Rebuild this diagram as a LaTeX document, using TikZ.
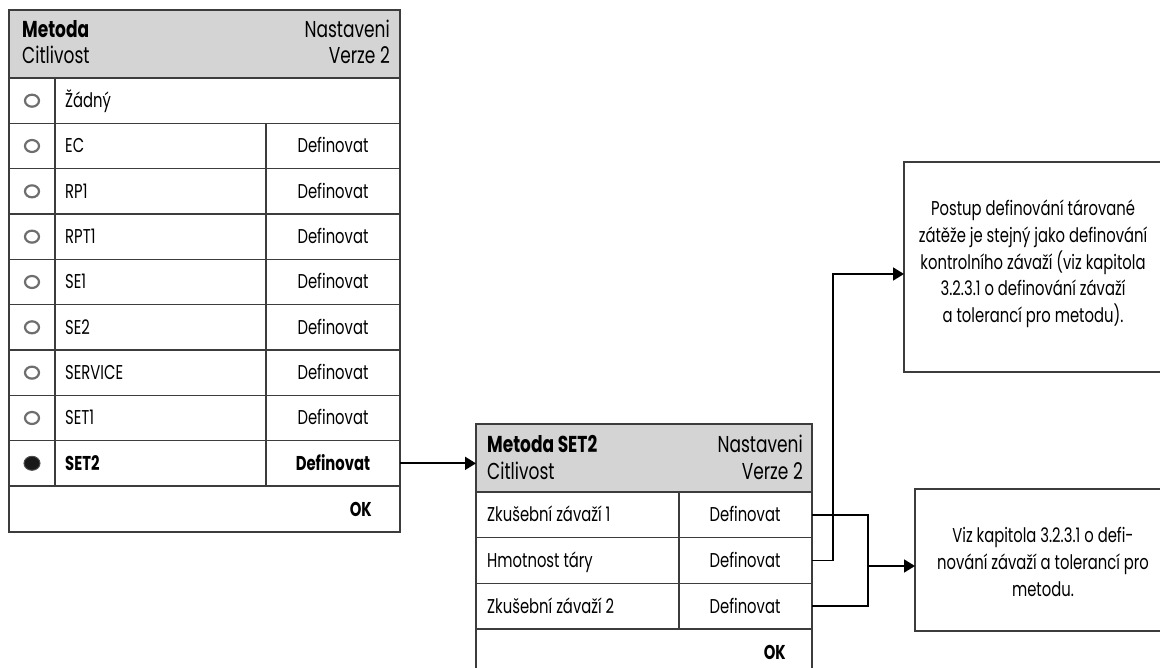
\documentclass[tikz,border=0pt]{standalone}
\usepackage{fontspec}
\setmainfont{Poppins}[FakeStretch=0.74]
\usetikzlibrary{arrows.meta,shapes.geometric}
\definecolor{frame}{HTML}{3C3C3C}
\definecolor{hdr}{HTML}{D4D4D4}
\definecolor{radioring}{HTML}{6E6E6E}
\begin{document}
\begin{tikzpicture}[x=1pt,y=-1pt,
  cell/.style={draw=frame,line width=1.3pt,anchor=north west,inner sep=0pt,outer sep=0pt},
  txt/.style={font=\fontsize{20}{23}\selectfont,inner sep=0pt},
  btxt/.style={font=\fontsize{20}{23}\selectfont\bfseries,inner sep=0pt},
  htxt/.style={font=\fontsize{23}{26}\selectfont,inner sep=0pt},
  hbtxt/.style={font=\fontsize{23}{26}\selectfont\bfseries,inner sep=0pt},
  radio/.style={ellipse,draw=radioring,line width=2.2pt,minimum width=14pt,minimum height=12pt,inner sep=0pt},
  radioon/.style={ellipse,fill=black!90,draw=black!70,line width=1pt,minimum width=16pt,minimum height=14pt,inner sep=0pt},
  note/.style={draw=frame,line width=1.3pt,anchor=north west,inner sep=0pt,outer sep=0pt},
  notetxt/.style={font=\fontsize{20}{26.7}\selectfont,align=center,inner sep=0pt},
  link/.style={draw=black,line width=1.8pt},
  arr/.style={link,-{Triangle[length=11pt,width=13pt]}}]
\useasboundingbox (0,0) rectangle (1160,668);

% ---- method list panel ----
\node[cell,fill=hdr,minimum width=391pt,minimum height=68pt] (h1) at (9,10) {};
\node[hbtxt,anchor=base west] (h1a) at (22,37.5) {Metoda};
\node[htxt,anchor=base west] (h1b) at (22,63.5) {Citlivost};
\node[htxt,anchor=base east] (h1c) at (390,37.5) {Nastaveni};
\node[htxt,anchor=base east] (h1d) at (390,63.5) {Verze 2};

% first row spans both right columns
\node[cell,minimum width=46pt,minimum height=45.33pt] (c0) at (9,78) {};
\node[cell,minimum width=345pt,minimum height=45.33pt] (n0) at (55,78) {};
\node[radio] (r0) at (32,100.7) {};
\node[txt,anchor=base west] (t0) at (65,107.5) {Žádný};

\foreach \i/\name in {1/EC,2/RP1,3/RPT1,4/SE1,5/SE2,6/SERVICE,7/SET1}{
  \pgfmathsetmacro{\top}{78+45.33*\i}
  \pgfmathsetmacro{\mid}{\top+22.67}
  \node[cell,minimum width=46pt,minimum height=45.33pt] (c\i) at (9,\top) {};
  \node[cell,minimum width=211pt,minimum height=45.33pt] (n\i) at (55,\top) {};
  \node[cell,minimum width=134pt,minimum height=45.33pt] (d\i) at (266,\top) {};
  \node[radio] (r\i) at (32,\mid) {};
  \node[txt,anchor=base west] (t\i) at (65,\mid+7) {\name};
  \node[txt,anchor=base] (dt\i) at (333,\mid+7) {Definovat};
}

% selected entry
\node[cell,minimum width=46pt,minimum height=45.33pt] (c8) at (9,440.7) {};
\node[cell,minimum width=211pt,minimum height=45.33pt] (n8) at (55,440.7) {};
\node[cell,minimum width=134pt,minimum height=45.33pt] (d8) at (266,440.7) {};
\node[radioon] (r8) at (32,463.3) {};
\node[btxt,anchor=base west] (t8) at (65,470.3) {SET2};
\node[btxt,anchor=base] (dt8) at (333,470.3) {Definovat};

\node[cell,minimum width=391pt,minimum height=46pt] (ok1) at (9,486) {};
\node[btxt,anchor=base east] (ok1t) at (372,516) {OK};

% ---- SET2 detail panel ----
\node[cell,fill=hdr,minimum width=336pt,minimum height=68pt] (h2) at (476,424) {};
\node[hbtxt,anchor=base west] (h2a) at (487,453) {Metoda SET2};
\node[htxt,anchor=base west] (h2b) at (487,479) {Citlivost};
\node[htxt,anchor=base east] (h2c) at (803,453) {Nastaveni};
\node[htxt,anchor=base east] (h2d) at (803,479) {Verze 2};

\foreach \i/\name in {1/{Zkušební závaží 1},2/{Hmotnost táry},3/{Zkušební závaží 2}}{
  \pgfmathsetmacro{\top}{492+45.67*(\i-1)}
  \pgfmathsetmacro{\mid}{\top+22.83}
  \node[cell,minimum width=203pt,minimum height=45.67pt] (s\i) at (476,\top) {};
  \node[cell,minimum width=133pt,minimum height=45.67pt] (sd\i) at (679,\top) {};
  \node[txt,anchor=base west] (st\i) at (487,\mid+7) {\name};
  \node[txt,anchor=base] (sdt\i) at (745,\mid+7) {Definovat};
}
\node[cell,minimum width=336pt,minimum height=44pt] (ok2) at (476,629) {};
\node[btxt,anchor=base east] (ok2t) at (786,659) {OK};

% ---- explanatory notes ----
\node[note,minimum width=258pt,minimum height=210pt] (box1) at (904,162) {};
\node[notetxt] (box1t) at (1033,264) {Postup definování tárované\\zátěže je stejný jako definování\\kontrolního závaží (viz kapitola\\3.2.3.1 o definování závaží\\a tolerancí pro metodu).};
\node[note,minimum width=247pt,minimum height=142pt] (box2) at (915,489) {};
\node[notetxt] (box2t) at (1043,562) {Viz kapitola 3.2.3.1 o defi-\\nování závaží a tolerancí pro\\metodu.};

% ---- connectors ----
\coordinate (j1) at (833,0);
\coordinate (j2) at (868,0);
\draw[arr] (d8.east) -- (d8.east -| h2.west);
\draw[arr] (sd2.east) -- (sd2.east -| j1) |- ([yshift=-7pt]box1.west);
\draw[link] (sd1.east) -- (sd1.east -| j2) -- (sd3.east -| j2) -- (sd3.east);
\draw[arr] ([yshift=-6pt]box2.west -| j2) -- ([yshift=-6pt]box2.west);
\end{tikzpicture}
\end{document}
